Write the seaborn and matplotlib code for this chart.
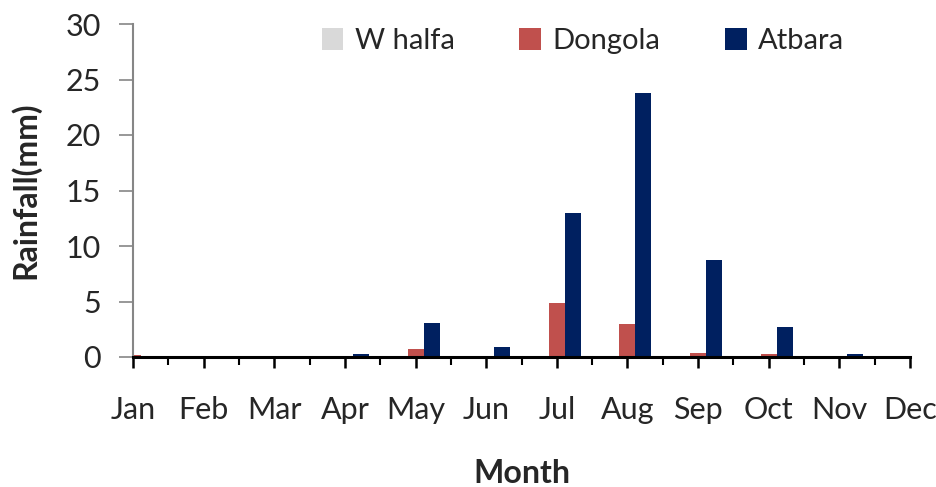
import matplotlib
matplotlib.use("Agg")
import matplotlib.pyplot as plt
import seaborn as sns
import pandas as pd
import numpy as np

months = ["Jan", "Feb", "Mar", "Apr", "May", "Jun", "Jul", "Aug", "Sep", "Oct", "Nov", "Dec"]
w_halfa = [0, 0, 0, 0, 0, 0, 0, 0.1, 0, 0, 0, 0]
dongola = [0.2, 0, 0, 0, 0.7, 0, 4.9, 3.0, 0.4, 0.3, 0, 0]
atbara = [0, 0, 0, 0.3, 3.1, 0.9, 13.0, 23.8, 8.7, 2.7, 0.3, 0]
series = ["W halfa", "Dongola", "Atbara"]
colors = ["#D9D9D9", "#C0504D", "#002060"]

df = pd.DataFrame({
    "Month": months * 3,
    "Station": ["W halfa"] * 12 + ["Dongola"] * 12 + ["Atbara"] * 12,
    "Rainfall": w_halfa + dongola + atbara,
})

sns.set_style("white")
plt.rcParams['font.family'] = ['Lato', 'DejaVu Sans']

fig = plt.figure(figsize=(9.36, 4.87), dpi=100)
ax = fig.add_axes([133/936, 1 - 357/487, (910 - 133)/936, (357 - 24)/487])

sns.barplot(data=df, x="Month", y="Rainfall", hue="Station", order=months,
            hue_order=series, palette=colors, width=0.68, dodge=True,
            saturation=1, errorbar=None, ax=ax, linewidth=0)

ax.set_xlim(0, 11)
ax.set_ylim(0, 30)
ax.set_yticks(np.arange(0, 31, 5))
ax.set_xticks(range(12))
ax.set_xticklabels(months)
ax.set_xticks(np.arange(0.5, 11, 1), minor=True)

for s in ["top", "right"]:
    ax.spines[s].set_visible(False)
ax.spines["left"].set_color("#868686")
ax.spines["left"].set_linewidth(1.5)
ax.spines["bottom"].set_color("black")
ax.spines["bottom"].set_linewidth(2.2)
ax.spines["bottom"].set_zorder(5)

ax.tick_params(axis="y", which="major", direction="out", length=10, width=1.2,
               color="#868686", labelsize=22, pad=13, left=True)
ax.tick_params(axis="x", which="major", direction="out", length=8, width=1.8,
               color="black", labelsize=22, pad=20, bottom=True)
ax.tick_params(axis="x", which="minor", direction="out", length=6, width=1.5,
               color="black", bottom=True)

ax.set_xlabel("Month", fontsize=23, fontweight="bold", labelpad=25)
ax.set_ylabel("Rainfall(mm)", fontsize=23, fontweight="bold", labelpad=18)

leg = ax.legend(loc="center", bbox_to_anchor=(583/936, 1 - 41/487),
                bbox_transform=fig.transFigure, ncol=3, frameon=False,
                fontsize=21, handlelength=0.75, handleheight=0.75,
                handletextpad=0.4, columnspacing=2.2, borderpad=0)

fig.savefig("out.png", dpi=100)
